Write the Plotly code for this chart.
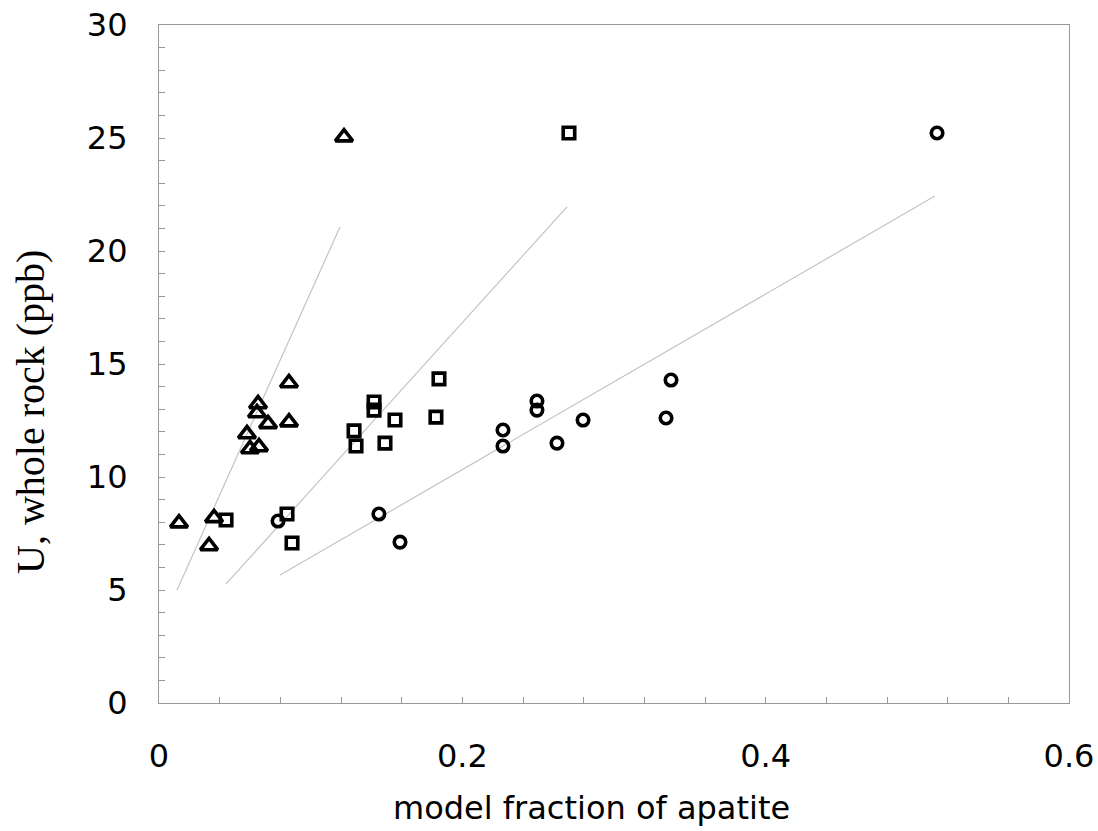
import plotly.graph_objects as go

# Data
tri_x = [0.0132, 0.0363, 0.033, 0.058, 0.060, 0.0659, 0.0653, 0.0646, 0.0719, 0.0857, 0.0857, 0.122]
tri_y = [7.96, 8.19, 6.95, 11.9, 11.24, 11.33, 13.23, 12.83, 12.35, 14.16, 12.43, 25.04]

sq_x = [0.0442, 0.0844, 0.0877, 0.1286, 0.1299, 0.1418, 0.1418, 0.1556, 0.149, 0.1826, 0.1846, 0.2703]
sq_y = [8.10, 8.36, 7.08, 12.04, 11.37, 13.32, 12.96, 12.52, 11.50, 12.65, 14.34, 25.22]

circ_x = [0.0785, 0.145, 0.1589, 0.2268, 0.2268, 0.2492, 0.2492, 0.2624, 0.2796, 0.3343, 0.3376, 0.513]
circ_y = [8.05, 8.36, 7.12, 12.08, 11.37, 13.36, 12.96, 11.50, 12.52, 12.61, 14.29, 25.22]

# Fitted lines (endpoints)
line_tri_x = [0.0119, 0.1193]
line_tri_y = [5.0, 21.06]
line_sq_x = [0.0442, 0.269]
line_sq_y = [5.27, 21.95]
line_circ_x = [0.0798, 0.5116]
line_circ_y = [5.66, 22.43]

x_tickvals = [0, 0.2, 0.4, 0.6]
x_ticktext = ["0", "0.2", "0.4", "0.6"]
y_tickvals = [0, 5, 10, 15, 20, 25, 30]

fig = go.Figure()

line_color = "#c4c4c4"
for lx, ly in [(line_tri_x, line_tri_y), (line_sq_x, line_sq_y), (line_circ_x, line_circ_y)]:
    fig.add_trace(go.Scatter(x=lx, y=ly, mode="lines",
                             line=dict(color=line_color, width=1.2),
                             showlegend=False, hoverinfo="skip"))

fig.add_trace(go.Scatter(x=tri_x, y=tri_y, mode="markers",
                         marker=dict(symbol="triangle-up-open", size=15, color="black",
                                     line=dict(width=3.6, color="black")),
                         showlegend=False))
fig.add_trace(go.Scatter(x=sq_x, y=sq_y, mode="markers",
                         marker=dict(symbol="square-open", size=11.5, color="black",
                                     line=dict(width=3.6, color="black")),
                         showlegend=False))
fig.add_trace(go.Scatter(x=circ_x, y=circ_y, mode="markers",
                         marker=dict(symbol="circle-open", size=11.5, color="black",
                                     line=dict(width=3.6, color="black")),
                         showlegend=False))

axis_font = dict(family="DejaVu Sans", size=32, color="black")

fig.update_layout(
    width=1098, height=831,
    margin=dict(l=159, r=29, t=25, b=128),
    paper_bgcolor="white", plot_bgcolor="white",
    xaxis=dict(range=[0, 0.6], tickvals=x_tickvals, ticktext=x_ticktext,
               ticks="inside", ticklen=6, tickcolor="#999999", tickwidth=1,
               minor=dict(dtick=0.04, tick0=0, ticks="inside", ticklen=6, tickcolor="#999999", tickwidth=1),
               showline=True, linecolor="#999999", linewidth=1.2, mirror=True,
               showgrid=False, zeroline=False, tickfont=axis_font, ticklabelstandoff=24,
               automargin=False),
    yaxis=dict(range=[0, 30], tickvals=y_tickvals,
               ticks="inside", ticklen=6, tickcolor="#999999", tickwidth=1,
               minor=dict(dtick=1, tick0=0, ticks="inside", ticklen=6, tickcolor="#999999", tickwidth=1),
               showline=True, linecolor="#999999", linewidth=1.2, mirror=True,
               showgrid=False, zeroline=False, tickfont=axis_font, ticklabelstandoff=24,
               automargin=False),
    annotations=[
        dict(text="model fraction of apatite", xref="paper", yref="paper",
             x=0.4758, y=-0.1549, xanchor="center", yanchor="middle", showarrow=False,
             font=dict(family="DejaVu Sans", size=32, color="black")),
        dict(text="U, whole rock (ppb)", xref="paper", yref="paper",
             x=-0.1418, y=0.4292, xanchor="center", yanchor="middle", showarrow=False,
             textangle=-90,
             font=dict(family="Liberation Serif", size=40, color="black")),
    ],
)

fig.write_html("out.html")
